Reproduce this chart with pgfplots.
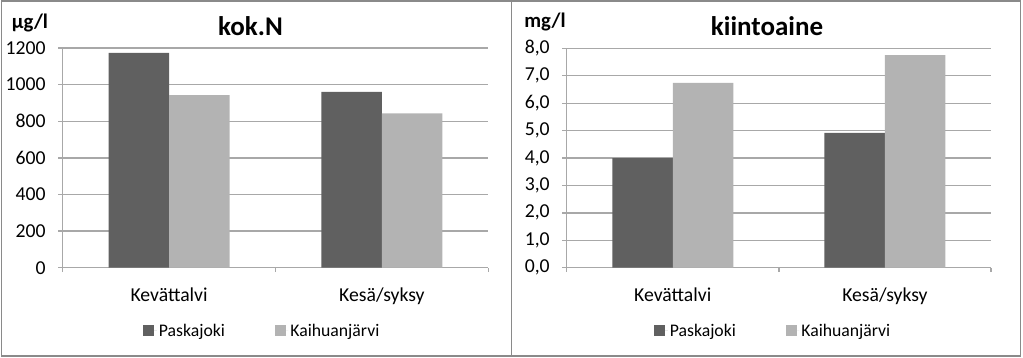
\documentclass[border=0pt]{standalone}
\usepackage{pgfplots}
\pgfplotsset{compat=1.18}
\usepackage{fontspec}
\setmainfont{Carlito}
\definecolor{darkbar}{HTML}{606060}
\definecolor{lightbar}{HTML}{B3B3B3}
\definecolor{gridc}{HTML}{A8A8A8}
\definecolor{framec}{HTML}{8A8A8A}
\pgfplotsset{
 panel/.style={
  scale only axis,
  anchor=south west,
  ybar=0pt, bar width=60.5pt,
  xmin=-0.5, xmax=1.5,
  ymin=0,
  xtick={-0.5,0.5,1.5}, xticklabels={},
  extra x ticks={0,1},
  extra x tick labels={Kevättalvi,Kesä/syksy},
  extra x tick style={major tick length=0pt, grid=none, xticklabel style={yshift=-17pt}},
  axis x line=bottom, axis y line=left,
  axis line style={-, draw=gridc, line width=1.3pt},
  ymajorgrids, grid style={draw=gridc, line width=1.3pt},
  tick style={draw=gridc, line width=1.3pt},
  tick align=outside, major tick length=4.5pt,
  ticklabel style={font=\fontsize{19.7}{23}\selectfont},
  yticklabel style={xshift=-9pt},
  /pgf/number format/assume math mode=true,
  legend columns=2,
  legend style={draw=none, fill=none, anchor=west, font=\fontsize{17.7}{21}\selectfont,
    /tikz/every even column/.append style={column sep=48pt}},
  legend image code/.code={\fill[##1] (0pt,-5pt) rectangle (11pt,6pt); \path (0pt,0pt) -- (13.5pt,0pt);},
 }
}
\begin{document}
\begin{tikzpicture}
\useasboundingbox (0pt,0pt) rectangle (1023pt,357pt);
\draw[framec, line width=1.5pt] (1.7pt,1pt) rectangle (1020.7pt,356pt);
\draw[framec, line width=1.5pt] (511.7pt,1pt) -- (511.7pt,356pt);

\begin{axis}[panel, at={(62.7pt,89.3pt)}, width=425.6pt, height=219.7pt,
  ymax=1200, ytick={0,200,...,1200},
  /pgf/number format/1000 sep={},
  legend style={at={(0.182,-0.287)}}]
\addplot[fill=darkbar, draw=none] coordinates {(0,1174) (1,961)};
\addplot[fill=lightbar, draw=none] coordinates {(0,943) (1,843)};
\legend{Paskajoki,Kaihuanjärvi}
\end{axis}

\begin{axis}[panel, at={(566.7pt,89.3pt)}, width=424.3pt, height=219.4pt,
  ymax=8, ytick={0,1,...,8},
  yticklabel style={/pgf/number format/.cd, fixed, fixed zerofill, precision=1, use comma},
  legend style={at={(0.199,-0.287)}}]
\addplot[fill=darkbar, draw=none] coordinates {(0,4.0) (1,4.92)};
\addplot[fill=lightbar, draw=none] coordinates {(0,6.74) (1,7.75)};
\legend{Paskajoki,Kaihuanjärvi}
\end{axis}

\node[font=\bfseries\fontsize{20.7}{24}\selectfont, anchor=base] at (30pt,328pt) {µg/l};
\node[font=\bfseries\fontsize{20.7}{24}\selectfont, anchor=base] at (545pt,329pt) {mg/l};
\node[font=\bfseries\fontsize{27}{32}\selectfont, anchor=base] at (250.5pt,321pt) {kok.N};
\node[font=\bfseries\fontsize{27}{32}\selectfont, anchor=base] at (767pt,321pt) {kiintoaine};
\end{tikzpicture}
\end{document}
